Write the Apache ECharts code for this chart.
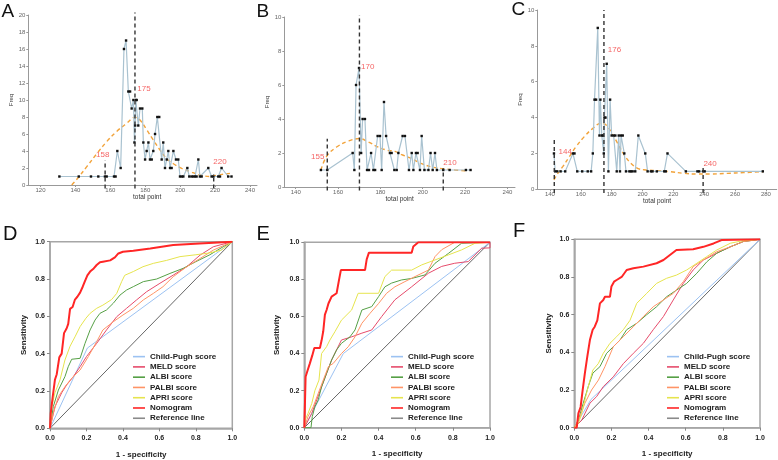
<!DOCTYPE html>
<html>
<head>
<meta charset="utf-8">
<script src="https://cdn.jsdelivr.net/npm/echarts@6/dist/echarts.min.js"></script>
<style>html,body{margin:0;padding:0;background:#fff}#c{width:778px;height:460px}</style>
</head>
<body>
<div id="c"></div>
<script>
// ---------- Histogram data (total point, frequency) ----------
const freqA = [[130.8,1],[141.9,1],[148.9,1],[153.1,1],[156.9,1],[157.9,1],[162.1,1],[163.0,1],[164.0,4],[165.9,2],[167.8,16],[169.0,17],[170.3,11],[171.3,11],[172.2,9],[173.2,10],[173.8,5],[174.2,7],[174.6,10],[175.1,10],[176.0,7],[177.0,9],[178.3,9],[178.9,5],[179.9,3],[180.8,4],[181.8,5],[182.7,3],[183.7,3],[184.6,4],[185.6,6],[186.9,8],[188.0,8],[189.4,3],[190.3,5],[191.3,2],[192.3,3],[193.2,4],[194.2,2],[195.1,2],[196.1,4],[197.6,3],[198.9,3],[199.9,1],[200.9,1],[201.8,1],[204.1,2],[205.2,1],[206.5,1],[207.5,1],[208.5,1],[209.4,1],[210.4,3],[211.3,1],[212.3,1],[216.1,2],[218.0,1],[219.0,1],[221.8,1],[222.8,1],[223.7,2],[227.5,1],[229.4,1]];
const curveA = [[137.9,0],[141.9,0.94],[146.5,2.16],[152.3,3.7],[157.9,5.1],[163.6,6.3],[169.3,7.25],[174.1,7.96],[177,7.65],[180.8,6.5],[184.6,5.3],[188.5,4.1],[192.3,3.1],[196.1,2.5],[200.9,1.96],[205.7,1.57],[211.3,1.18],[217.1,1.0],[221.8,1.18],[228.5,1.37]];
const cutA = [157, 174.1, 219.2];
const cutTopA = [2.9, 20.3, 1.3];
const cutTextA = ['158', '175', '220'];
const cutTextAtA = [[155.6,3.5],[179.3,11.3],[222.8,2.74]];

const freqB = [[151.9,1],[154.9,1],[166.9,2],[167.7,1],[168.5,6],[169.9,7],[170.9,2],[171.6,4],[172.7,4],[173.7,1],[174.6,1],[175.6,2],[176.7,1],[177.5,1],[178.7,3],[179.8,3],[180.6,1],[181.7,5],[182.7,3],[184.5,2],[185.3,2],[186.6,1],[187.7,1],[188.5,2],[190.5,3],[191.6,3],[193.5,1],[194.8,2],[195.6,1],[196.8,2],[197.6,2],[198.7,1],[199.5,3],[200.8,1],[202.7,1],[203.7,2],[204.7,1],[205.8,2],[206.7,1],[209.7,1],[212.7,1],[220.4,1],[222.6,1]];
const curveB = [[151.9,1.0],[154.6,1.8],[159.3,2.35],[164.9,2.7],[170.1,2.85],[174.3,2.65],[179.0,2.35],[183.7,2.15],[186.9,2.1],[190.1,1.9],[194.8,1.67],[199.5,1.37],[204.3,1.18],[209.0,1.08],[215.3,1.0],[220.5,0.95]];
const cutB = [154.9, 170.1, 209.7];
const cutTopB = [2.84, 10.1, 1.1];
const cutTextB = ['155', '170', '210'];
const cutTextAtB = [[150.4,1.78],[174.0,7.1],[212.9,1.45]];

const freqC = [[142.6,2],[143.4,1],[144.7,1],[146.9,1],[149.9,1],[154.9,2],[155.9,2],[157.7,1],[160.9,1],[164.5,1],[166.7,1],[167.8,2],[168.9,5],[169.9,5],[171.0,9],[172.1,3],[172.7,5],[173.6,3],[174.3,3],[174.9,2],[175.3,4],[176.0,4],[176.8,7],[177.9,1],[179.0,5],[180.0,3],[181.3,3],[182.4,3],[183.3,1],[184.6,3],[185.4,1],[186.1,3],[187.2,3],[188.2,2],[189.3,1],[191.5,1],[192.5,1],[193.6,1],[195.3,1],[197.3,3],[201.8,2],[203.3,1],[205.5,1],[206.5,1],[209.3,1],[214.1,1],[215.1,1],[216.2,2],[228.1,1],[235.6,1],[236.7,1],[239.3,1],[240.3,1],[278.0,1]];
const curveC = [[142.6,0.52],[145.1,0.89],[148.3,1.26],[152.6,1.82],[156.9,2.38],[162.3,2.94],[167.8,3.4],[173.1,3.68],[176.4,3.59],[179.6,3.21],[183.9,2.56],[188.2,1.91],[192.5,1.45],[196.8,1.17],[202.2,1.08],[209.7,1.04],[218.3,0.98],[226.9,0.89],[235.6,0.85],[244.2,0.85],[255,0.89],[265.7,0.93],[278,0.98]];
const cutC = [142.8, 175.0, 239.3];
const cutTopC = [2.84, 10.0, 1.2];
const cutTextC = ['144', '176', '240'];
const cutTextAtC = [[149.9,2.1],[181.8,7.77],[243.8,1.41]];

const histTicksA = [120,140,160,180,200,220,240];
const histTicksB = [140,160,180,200,220,240];
const histTicksC = [140,160,180,200,220,240,260,280];

// ---------- ROC data (1 - specificity, sensitivity) ----------
const rocNames = ['Child-Pugh score','MELD score','ALBI score','PALBI score','APRI score','Nomogram','Reference line'];
const refLine = [[0,0],[1,1]];

const dChildPugh = [[0,0],[0.205,0.43],[1,1]];
const dMeld = [[0,0],[0.027,0.116],[0.064,0.19],[0.091,0.232],[0.128,0.277],[0.165,0.33],[0.20,0.384],[0.256,0.455],[0.31,0.527],[0.366,0.598],[0.42,0.643],[0.475,0.688],[0.53,0.732],[0.603,0.777],[0.676,0.821],[0.75,0.866],[0.823,0.928],[0.896,0.973],[1,1]];
const dAlbi = [[0,0],[0.018,0.116],[0.046,0.205],[0.082,0.277],[0.100,0.33],[0.119,0.37],[0.165,0.375],[0.192,0.455],[0.22,0.527],[0.247,0.58],[0.274,0.616],[0.31,0.634],[0.347,0.67],[0.384,0.714],[0.42,0.741],[0.457,0.759],[0.512,0.786],[0.585,0.80],[0.658,0.83],[0.73,0.857],[0.80,0.893],[0.877,0.93],[0.95,0.973],[1,1]];
const dPalbi = [[0,0],[0.018,0.08],[0.046,0.17],[0.082,0.223],[0.119,0.268],[0.165,0.3125],[0.21,0.384],[0.256,0.464],[0.29,0.527],[0.347,0.571],[0.40,0.607],[0.457,0.643],[0.512,0.688],[0.567,0.723],[0.62,0.759],[0.676,0.8125],[0.75,0.866],[0.823,0.91],[0.896,0.955],[1,1]];
const dApri = [[0,0],[0.01,0.116],[0.027,0.19],[0.055,0.26],[0.082,0.366],[0.11,0.44],[0.137,0.49],[0.165,0.545],[0.197,0.59],[0.22,0.616],[0.256,0.643],[0.29,0.66],[0.338,0.69],[0.366,0.723],[0.393,0.786],[0.41,0.82],[0.457,0.84],[0.51,0.866],[0.567,0.884],[0.64,0.90],[0.713,0.92],[0.80,0.93],[0.877,0.94],[0.94,0.955],[1,1]];
const dNomogram = [[0,0],[0.004,0.08],[0.015,0.17],[0.027,0.26],[0.037,0.29],[0.051,0.38],[0.064,0.40],[0.077,0.51],[0.091,0.535],[0.10,0.56],[0.11,0.64],[0.124,0.65],[0.137,0.69],[0.15,0.705],[0.165,0.727],[0.18,0.76],[0.19,0.785],[0.205,0.82],[0.22,0.84],[0.24,0.857],[0.256,0.875],[0.274,0.89],[0.29,0.893],[0.33,0.90],[0.356,0.916],[0.375,0.937],[0.40,0.946],[0.457,0.952],[0.55,0.964],[0.676,0.982],[0.82,0.991],[1,1]];

const eChildPugh = [[0,0],[0.21,0.40],[1,1]];
const eMeld = [[0,0],[0.04,0.077],[0.093,0.22],[0.147,0.365],[0.2,0.473],[0.255,0.49],[0.31,0.51],[0.363,0.527],[0.417,0.6],[0.488,0.69],[0.578,0.76],[0.668,0.833],[0.74,0.87],[0.81,0.887],[0.883,0.896],[0.955,0.968],[1,0.97],[1,1]];
const eAlbi = [[0,0],[0.036,0],[0.043,0.06],[0.057,0.113],[0.075,0.15],[0.093,0.22],[0.12,0.293],[0.147,0.365],[0.174,0.42],[0.2,0.455],[0.246,0.49],[0.273,0.527],[0.31,0.635],[0.363,0.653],[0.4,0.707],[0.434,0.76],[0.47,0.78],[0.524,0.797],[0.578,0.805],[0.65,0.824],[0.704,0.887],[0.776,0.94],[0.847,0.995],[1,1]];
const ePalbi = [[0,0],[0.02,0.06],[0.048,0.113],[0.075,0.185],[0.102,0.257],[0.13,0.33],[0.156,0.347],[0.2,0.40],[0.237,0.437],[0.273,0.49],[0.31,0.563],[0.354,0.617],[0.4,0.67],[0.443,0.725],[0.488,0.76],[0.542,0.788],[0.596,0.815],[0.668,0.85],[0.704,0.923],[0.74,0.96],[0.81,1],[1,1]];
const eApri = [[0,0],[0.004,0.04],[0.02,0.077],[0.04,0.13],[0.057,0.2],[0.079,0.257],[0.093,0.40],[0.12,0.437],[0.138,0.473],[0.165,0.518],[0.2,0.58],[0.255,0.635],[0.29,0.725],[0.4,0.725],[0.434,0.815],[0.47,0.85],[0.578,0.85],[0.632,0.878],[0.704,0.905],[0.776,0.932],[0.847,0.959],[0.92,0.995],[1,1]];
const eNomogram = [[0,0],[0.004,0.15],[0.007,0.275],[0.018,0.31],[0.03,0.347],[0.043,0.39],[0.054,0.43],[0.084,0.43],[0.093,0.47],[0.102,0.52],[0.111,0.61],[0.12,0.635],[0.13,0.67],[0.147,0.707],[0.174,0.725],[0.187,0.797],[0.197,0.85],[0.327,0.85],[0.336,0.908],[0.348,0.944],[0.578,0.944],[0.587,0.977],[0.614,1],[1,1]];

const fChildPugh = [[0,0],[0.09,0.15],[1,1]];
const fMeld = [[0,0],[0.04,0.04],[0.084,0.13],[0.12,0.165],[0.156,0.218],[0.21,0.27],[0.264,0.34],[0.318,0.395],[0.372,0.448],[0.425,0.52],[0.48,0.59],[0.533,0.678],[0.587,0.766],[0.64,0.837],[0.695,0.89],[0.767,0.926],[0.84,0.96],[0.91,0.988],[1,1]];
const fAlbi = [[0,0],[0.022,0.04],[0.048,0.13],[0.075,0.218],[0.1,0.29],[0.138,0.324],[0.174,0.395],[0.21,0.43],[0.246,0.465],[0.282,0.52],[0.336,0.554],[0.39,0.6],[0.443,0.642],[0.497,0.695],[0.55,0.73],[0.605,0.766],[0.66,0.82],[0.713,0.88],[0.767,0.926],[0.84,0.96],[0.91,0.988],[1,1]];
const fPalbi = [[0,0],[0.03,0.058],[0.057,0.13],[0.093,0.2],[0.13,0.253],[0.165,0.324],[0.21,0.43],[0.264,0.483],[0.318,0.536],[0.372,0.59],[0.425,0.642],[0.48,0.678],[0.533,0.713],[0.587,0.775],[0.64,0.855],[0.695,0.89],[0.767,0.934],[0.84,0.96],[0.91,0.988],[1,1]];
const fApri = [[0,0],[0.022,0.023],[0.04,0.076],[0.057,0.147],[0.075,0.218],[0.1,0.306],[0.129,0.34],[0.156,0.395],[0.192,0.448],[0.228,0.483],[0.264,0.52],[0.3,0.57],[0.336,0.66],[0.39,0.713],[0.443,0.766],[0.497,0.793],[0.55,0.81],[0.605,0.837],[0.66,0.873],[0.713,0.908],[0.767,0.943],[0.84,0.979],[0.91,0.993],[1,1]];
const fNomogram = [[0,0],[0.013,0],[0.022,0.076],[0.034,0.11],[0.045,0.2],[0.057,0.29],[0.07,0.377],[0.084,0.465],[0.099,0.52],[0.11,0.536],[0.124,0.57],[0.138,0.66],[0.156,0.678],[0.165,0.695],[0.192,0.695],[0.2,0.75],[0.214,0.775],[0.228,0.784],[0.255,0.8],[0.282,0.837],[0.318,0.846],[0.372,0.855],[0.443,0.873],[0.48,0.89],[0.515,0.917],[0.55,0.943],[0.64,0.947],[0.695,0.96],[0.75,0.978],[0.793,0.996],[1,1]];

// ---------- build ----------
const FONT = 'Liberation Sans, Arial, Helvetica, sans-serif';
const chart = echarts.init(document.getElementById('c'), null, {renderer: 'canvas'});

const hist = [
  {grid:{left:28.3, top:15, width:228.7, height:170}, xr:[113,244], ymax:20, ticks:histTicksA, freq:freqA, curve:curveA, cut:cutA, top:cutTopA, txt:cutTextA, at:cutTextAtA, nameGapY:8, namePad:[0,0,0,9]},
  {grid:{left:284.3, top:17, width:230.7, height:170}, xr:[134.6,243.6], ymax:10, ticks:histTicksB, freq:freqB, curve:curveB, cut:cutB, top:cutTopB, txt:cutTextB, at:cutTextAtB, nameGapY:5.5, namePad:[0,0,0,0]},
  {grid:{left:537.3, top:10, width:239.4, height:179.3}, xr:[131.8,287], ymax:10, ticks:histTicksC, freq:freqC, curve:curveC, cut:cutC, top:cutTopC, txt:cutTextC, at:cutTextAtC, nameGapY:10, namePad:[0,0,0,0]}
];
const roc = [
  {grid:{left:50, top:241.7, width:182.3, height:186.6}, legendLeft:133, gapY:22, data:[dChildPugh,dMeld,dAlbi,dPalbi,dApri,dNomogram,refLine]},
  {grid:{left:304.3, top:242.3, width:185.7, height:185.4}, legendLeft:391, gapY:23.5, data:[eChildPugh,eMeld,eAlbi,ePalbi,eApri,eNomogram,refLine]},
  {grid:{left:574.3, top:239.3, width:185.7, height:188.4}, legendLeft:667, gapY:22, data:[fChildPugh,fMeld,fAlbi,fPalbi,fApri,fNomogram,refLine]}
];
const rocStyle = [
  {color:'#9cc2f2', width:1},
  {color:'#e64b6b', width:1},
  {color:'#56a046', width:1},
  {color:'#ff9466', width:1},
  {color:'#e6e44e', width:1},
  {color:'#ff2626', width:2},
  {color:'#555555', width:0.9}
];
const legendColor = ['#9cc2f2','#e64b6b','#56a046','#ff9466','#e6e44e','#ff2626','#8a8a8a'];
const drawOrder = [6,0,1,2,3,4,5];

const grids = [], xAxes = [], yAxes = [], series = [], legends = [];

hist.forEach((h, i) => {
  grids.push(Object.assign({containLabel:false}, h.grid));
  xAxes.push({
    type:'value', gridIndex:i, min:h.xr[0], max:h.xr[1],
    name:'total point', nameLocation:'middle', nameGap:5,
    nameTextStyle:{fontFamily:FONT, fontSize:6.5, color:'#333', padding:h.namePad},
    axisLine:{show:true, onZero:false, lineStyle:{color:'#999', width:1}},
    axisTick:{show:true, length:2, customValues:h.ticks, lineStyle:{color:'#999'}},
    axisLabel:{customValues:h.ticks, fontFamily:FONT, fontSize:6, color:'#666', margin:2},
    splitLine:{show:false}
  });
  yAxes.push({
    type:'value', gridIndex:i, min:0, max:h.ymax, interval:2,
    name:'Freq', nameLocation:'middle', nameRotate:90, nameGap:h.nameGapY,
    nameTextStyle:{fontFamily:FONT, fontSize:6, color:'#333'},
    axisLine:{show:true, lineStyle:{color:'#999', width:1}},
    axisTick:{show:true, length:2, lineStyle:{color:'#999'}},
    axisLabel:{fontFamily:FONT, fontSize:6, color:'#666', margin:3},
    splitLine:{show:false}
  });
  series.push({
    type:'line', xAxisIndex:i, yAxisIndex:i, data:h.curve, smooth:0.4, symbol:'none', silent:true,
    lineStyle:{color:'#f2a33a', width:1.4, type:[4,3]}, z:2
  });
  series.push({
    type:'line', xAxisIndex:i, yAxisIndex:i, data:h.freq, symbol:'rect', symbolSize:2.4, showAllSymbol:true,
    lineStyle:{color:'#a9c2d0', width:1.2}, itemStyle:{color:'#111'}, z:3, silent:true
  });
  h.cut.forEach((c, k) => {
    series.push({
      type:'line', xAxisIndex:i, yAxisIndex:i, data:[[c, -0.02*h.ymax],[c, h.top[k]]], symbol:'none', clip:false, silent:true,
      lineStyle:{color:'#333', width:1.4, type:[4,3]}, z:4
    });
  });
  series.push({
    type:'scatter', xAxisIndex:i, yAxisIndex:i, symbolSize:1, silent:true,
    itemStyle:{color:'transparent'},
    data:h.at.map((p, k) => ({value:p, name:h.txt[k]})),
    label:{show:true, position:'inside', formatter:'{b}', color:'#f23c3c', fontSize:8, fontFamily:FONT},
    z:5
  });
});

roc.forEach((r, j) => {
  const gi = 3 + j;
  grids.push(Object.assign({show:true, borderColor:'#a6a6a6', borderWidth:1.5, backgroundColor:'transparent'}, r.grid));
  xAxes.push({
    type:'value', gridIndex:gi, min:0, max:1, interval:0.2,
    name:'1 - specificity', nameLocation:'middle', nameGap:22,
    nameTextStyle:{fontFamily:FONT, fontSize:8, fontWeight:'bold', color:'#222'},
    axisLine:{show:true, onZero:false, lineStyle:{color:'#a6a6a6', width:1.5}},
    axisTick:{show:true, length:3, lineStyle:{color:'#888'}},
    axisLabel:{fontFamily:FONT, fontSize:7, fontWeight:'bold', color:'#222', margin:6.5, formatter:v => v.toFixed(1)},
    splitLine:{show:false}
  });
  yAxes.push({
    type:'value', gridIndex:gi, min:0, max:1, interval:0.2,
    name:'Sensitivity', nameLocation:'middle', nameRotate:90, nameGap:r.gapY,
    nameTextStyle:{fontFamily:FONT, fontSize:8, fontWeight:'bold', color:'#222'},
    axisLine:{show:true, onZero:false, lineStyle:{color:'#a6a6a6', width:1.5}},
    axisTick:{show:true, length:3, lineStyle:{color:'#888'}},
    axisLabel:{fontFamily:FONT, fontSize:7, fontWeight:'bold', color:'#222', margin:5, formatter:v => v.toFixed(1)},
    splitLine:{show:false}
  });
  drawOrder.forEach((k, z) => {
    series.push({
      type:'line', name:rocNames[k], xAxisIndex:gi, yAxisIndex:gi, data:r.data[k], symbol:'none', silent:true,
      lineStyle:{color:rocStyle[k].color, width:rocStyle[k].width}, itemStyle:{color:rocStyle[k].color},
      z:2 + z
    });
  });
  legends.push({
    orient:'vertical', left:r.legendLeft, top:351.5, padding:0, itemWidth:12, itemHeight:1.6, itemGap:0,
    selectedMode:false,
    data:rocNames.map((n, k) => ({name:n, icon:'rect', itemStyle:{color:legendColor[k]}})),
    textStyle:{fontFamily:FONT, fontSize:8, fontWeight:'bold', color:'#222', lineHeight:10.27}
  });
});

const letters = [
  {t:'A', x:1.5, y:11.5, s:19}, {t:'B', x:256.5, y:11.5, s:19}, {t:'C', x:511.5, y:10, s:19},
  {t:'D', x:3, y:234, s:20}, {t:'E', x:256.5, y:234, s:20}, {t:'F', x:513, y:231, s:20}
];

chart.setOption({
  animation:false,
  backgroundColor:'#fff',
  grid:grids, xAxis:xAxes, yAxis:yAxes, series:series, legend:legends,
  graphic:letters.map(l => ({type:'text', left:l.x, top:l.y - l.s*0.5, style:{text:l.t, font:l.s + 'px ' + FONT, fill:'#111'}}))
});
</script>
</body>
</html>
